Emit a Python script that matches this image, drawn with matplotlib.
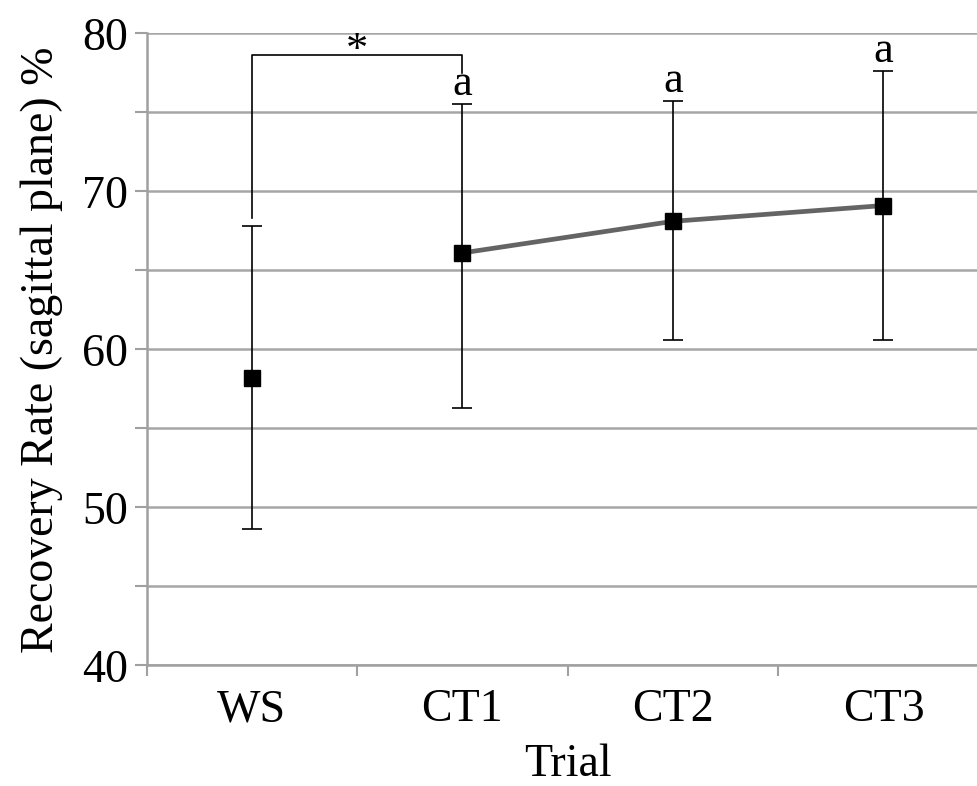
import numpy as np
import matplotlib.pyplot as plt

# Values
trials = ["WS", "CT1", "CT2", "CT3"]
means = [58.2, 66.1, 68.1, 69.1]
err_low = [48.6, 56.3, 60.6, 60.6]
err_high = [67.8, 75.5, 75.7, 77.6]
sig_marks = ["", "a", "a", "a"]
bracket_y = 78.6
bracket_ends = [68.3, 77.5]

plt.rcParams['font.family'] = ['Liberation Serif', 'DejaVu Serif']

fig = plt.figure(figsize=(9.77, 7.86), dpi=100)
ax = fig.add_axes([0.150, 0.1536, 0.862, 0.804])

x = np.arange(len(trials))
means = np.array(means)
yerr = [means - np.array(err_low), np.array(err_high) - means]

# grey line only across the CT trials
ax.plot(x[1:], means[1:], color="#646464", lw=3.4, zorder=2)
ax.errorbar(x, means, yerr=yerr, fmt="s", color="black", ms=12,
            ecolor="black", elinewidth=1.2, capsize=7, capthick=1.2, zorder=3)

# "a" markers above error bars
for i in range(len(trials)):
    if sig_marks[i]:
        ax.annotate(sig_marks[i], (x[i], err_high[i]), xytext=(0, 0),
                    textcoords="offset points", ha="center", va="bottom",
                    fontsize=32)

# significance bracket WS vs CT1
ax.plot([x[0], x[0], x[1], x[1]],
        [bracket_ends[0], bracket_y, bracket_y, bracket_ends[1]],
        color="black", lw=1.2, zorder=3)
ax.annotate("*", ((x[0] + x[1]) / 2, bracket_y), xytext=(0, -11),
            textcoords="offset points", ha="center", va="bottom",
            fontsize=32)

ax.set_xlim(-0.5, 3.5)
ax.set_ylim(40, 80)
ax.set_yticks(np.arange(40, 81, 10))
ax.set_yticks(np.arange(45, 80, 10), minor=True)
ax.set_xticks(x)
ax.set_xticklabels(trials)
ax.set_xticks(np.arange(-0.5, 3.6, 1), minor=True)
ax.tick_params(axis="x", which="major", length=0, pad=17, labelsize=33)
ax.tick_params(axis="x", which="minor", length=8, color="#a0a0a0", width=1.5)
ax.tick_params(axis="y", which="both", length=9, color="#a0a0a0", width=1.5,
               labelsize=33, pad=4)

ax.grid(axis="y", which="both", color="#a6a6a6", lw=1.8, zorder=0)
ax.set_axisbelow(True)
for s in ["top", "right"]:
    ax.spines[s].set_visible(False)
for s in ["left", "bottom"]:
    ax.spines[s].set_color("#a0a0a0")
    ax.spines[s].set_linewidth(1.8)

ax.set_xlabel("Trial", fontsize=33, labelpad=9)
ax.set_ylabel("Recovery Rate (sagittal plane) %", fontsize=33, labelpad=14)

fig.savefig("out.png", dpi=100)
